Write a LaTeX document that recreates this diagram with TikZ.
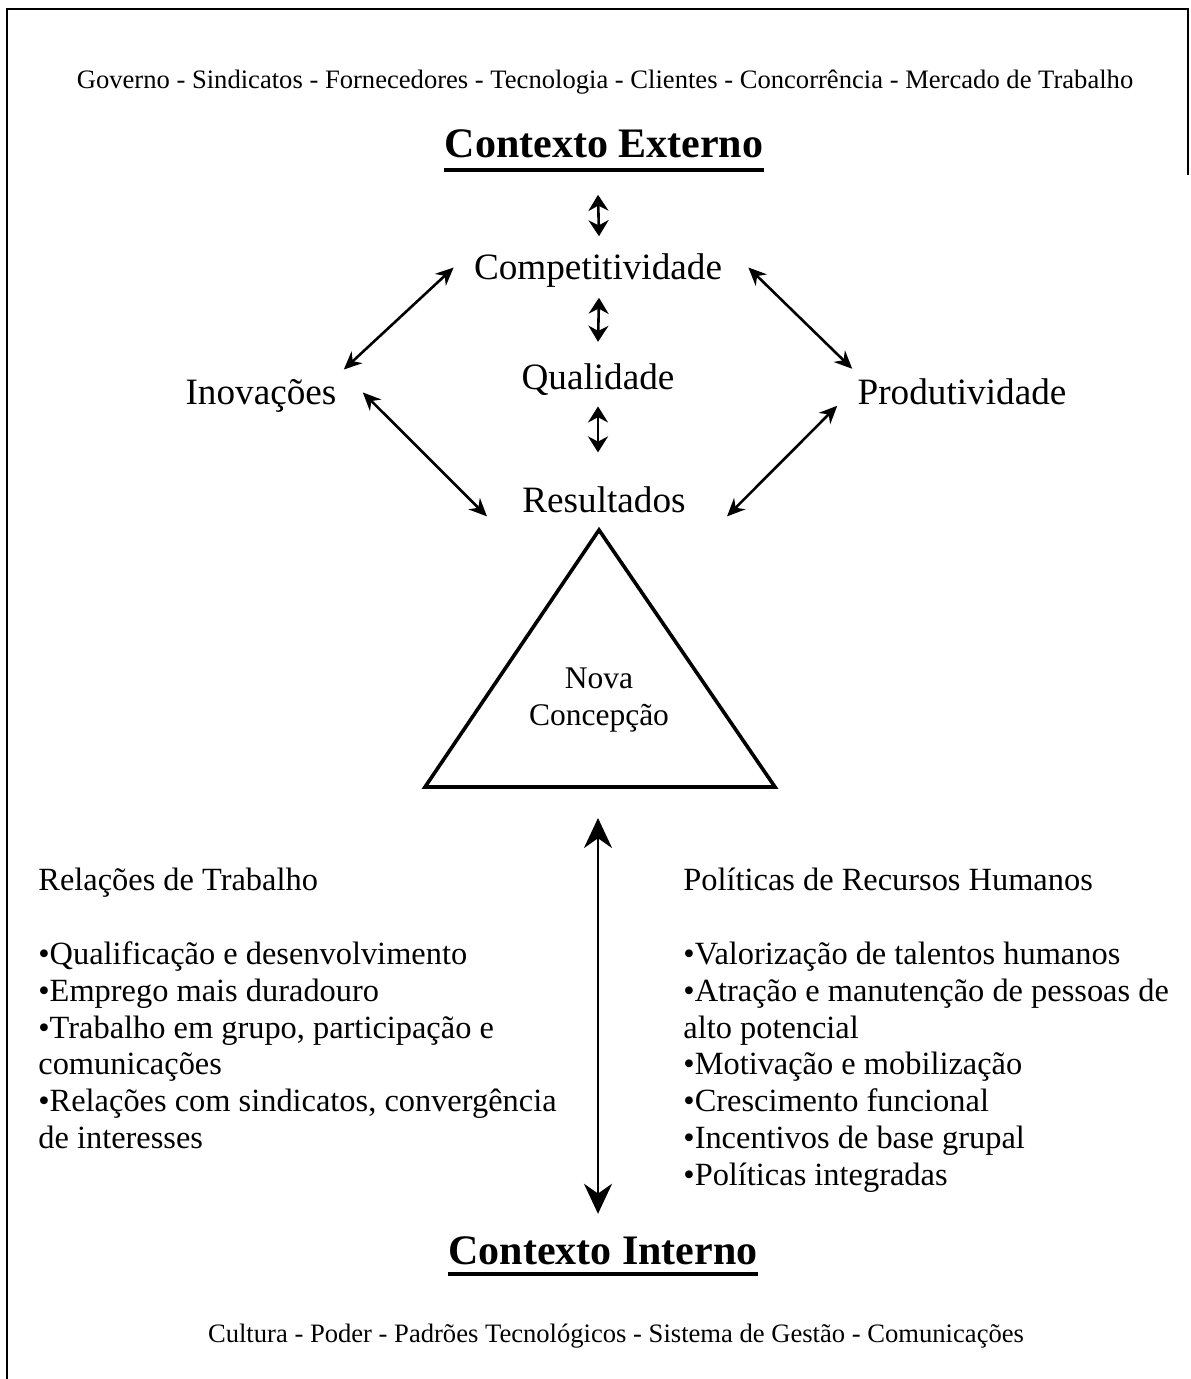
\documentclass[tikz,border=0pt]{standalone}
\usepackage{fontspec}
\setmainfont{Liberation Serif}
\usepackage{tikz}
\usetikzlibrary{arrows.meta, positioning}

\begin{document}
\begin{tikzpicture}[
  x=0.5pt, y=-0.5pt,
  ctx/.style={inner sep=0pt, anchor=base, font=\fontsize{13.3}{16}\selectfont},
  ttl/.style={inner sep=0pt, anchor=base, font=\fontsize{21}{24}\selectfont\bfseries},
  lbl/.style={inner sep=0pt, font=\fontsize{18.6}{22}\selectfont},
  blk/.style={inner sep=0pt, align=left, anchor=north west,
    font=\fontsize{16.2}{18.4}\selectfont},
  dbl/.style={{Stealth[length=9pt,width=8pt]}-{Stealth[length=9pt,width=8pt]},
    line width=1.3pt},
  vdbl/.style={{Stealth[length=8pt,width=10pt]}-{Stealth[length=8pt,width=10pt]},
    line width=1.3pt},
  bigdbl/.style={{Stealth[length=15pt,width=14pt]}-{Stealth[length=15pt,width=14pt]},
    line width=1.3pt},
  uline/.style={line width=1.6pt},
  tri/.style={line width=1.8pt, line join=miter}
]
  \useasboundingbox (0,0) rectangle (1190,1379);

  % moldura (parcial, como no original)
  \draw[line width=1.2pt] (7,1379) -- (7,9) -- (1188,9) -- (1188,175);

  % contexto externo
  \node[ctx] (ambext) at (605,89)
    {Governo - Sindicatos - Fornecedores - Tecnologia - Clientes - Concorrência - Mercado de Trabalho};
  \node[ttl] (ext) at (604,158) {Contexto Externo};
  \draw[uline] ([shift={(0,12)}]ext.base west) -- ([shift={(0,12)}]ext.base east);

  % eixo central
  \node[lbl, anchor=base] (qual) at (598,390) {Qualidade};
  \node[lbl, above=38pt of qual] (comp) {Competitividade};
  \node[lbl, below=45pt of qual, xshift=3pt] (res) {Resultados};
  \node[lbl, anchor=base] (inov) at (261,405) {Inovações};
  \node[lbl, anchor=base] (prod) at (962,405) {Produtividade};

  \draw[vdbl] ([shift={(-6,36)}]ext.south) -- ([shift={(1,-17)}]comp.north);
  \draw[vdbl] ([shift={(1,10)}]comp.south) -- ([shift={(0,-22)}]qual.north);
  \draw[vdbl] ([shift={(0,10)}]qual.south) -- ([shift={(-6,-34)}]res.north);

  \draw[dbl] ([shift={(7,-10)}]inov.north east) -- ([shift={(-20,-3)}]comp.west);
  \draw[dbl] ([shift={(26,-4)}]inov.east) -- ([shift={(-35,3)}]res.south west);
  \draw[dbl] ([shift={(26,-3)}]comp.east) -- ([shift={(-5,-10)}]prod.north west);
  \draw[dbl] ([shift={(-20,0)}]prod.south west) -- ([shift={(41,3)}]res.south east);

  % triangulo
  \coordinate (tA) at (599,530);
  \coordinate (tL) at (425,787);
  \coordinate (tR) at (775,787);
  \coordinate (tB) at (598,787);
  \draw[tri] (tA) -- (tL) -- (tR) -- cycle;
  \node[inner sep=0pt, align=center, font=\fontsize{15.75}{18.5}\selectfont]
    (nova) at (599,700) {Nova\\Concepção};

  % contexto interno
  \node[blk] (reltrab) at (38,868) {Relações de Trabalho\\[18.4pt]
    •Qualificação e desenvolvimento\\
    •Emprego mais duradouro\\
    •Trabalho em grupo, participação e\\
    comunicações\\
    •Relações com sindicatos, convergência\\
    de interesses};
  \node[blk] (polrh) at (683,868) {Políticas de Recursos Humanos\\[18.4pt]
    •Valorização de talentos humanos\\
    •Atração e manutenção de pessoas de\\
    alto potencial\\
    •Motivação e mobilização\\
    •Crescimento funcional\\
    •Incentivos de base grupal\\
    •Políticas integradas};

  \node[ttl] (int) at (603,1264) {Contexto Interno};
  \draw[uline] ([shift={(0,10)}]int.base west) -- ([shift={(0,10)}]int.base east);
  \draw[bigdbl] ([shift={(0,31)}]tB) -- ([shift={(-5,-22)}]int.north);

  \node[ctx] (ambint) at (616,1342)
    {Cultura - Poder - Padrões Tecnológicos - Sistema de Gestão - Comunicações};
\end{tikzpicture}
\end{document}
